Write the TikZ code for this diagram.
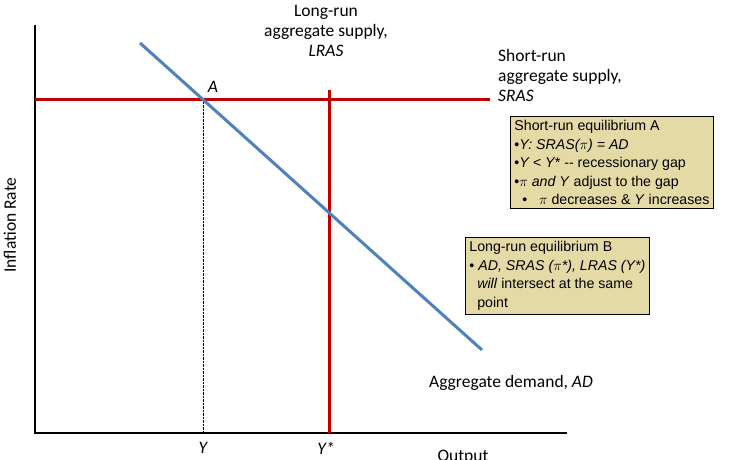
\documentclass[tikz,border=0pt]{standalone}
\usepackage{fontspec}
\setmainfont{Carlito}
\newfontfamily\boxfont{Liberation Sans}
\usetikzlibrary{positioning}
\definecolor{boxTan}{RGB}{228,218,166}
\definecolor{curveRed}{RGB}{192,0,0}
\definecolor{curveBlue}{RGB}{79,129,189}

\begin{document}
\begin{tikzpicture}
    [x = 1pt, y = -1pt,
     axisLine/.style = {line width = 1.6pt},
     redCurve/.style = {line width = 3pt, curveRed},
     blueCurve/.style = {line width = 3pt, curveBlue},
     guideLine/.style = {densely dotted, thin},
     labelNode/.style = {font = \fontsize{17.5}{20}\selectfont, align = left, inner sep = 1pt},
     infoBox/.style = {draw, fill = boxTan, line width = 0.8pt, align = left,
                       font = \boxfont\fontsize{14.2}{18.5}\selectfont,
                       inner sep = 4pt, anchor = north west}]

    \useasboundingbox (0,0) rectangle (752,460);

    % axes
    \coordinate (origin) at (35,433);
    \coordinate (yTop) at (35,25);
    \coordinate (xEnd) at (567,433);
    \draw [axisLine] (yTop) -- (origin) -- (xEnd);

    % curves
    \coordinate (srasL) at (35,99);
    \coordinate (srasR) at (490,99);
    \coordinate (lrasT) at (329,90);
    \coordinate (lrasB) at (329,433);
    \coordinate (adT) at (140,43);
    \coordinate (adB) at (482,350);
    \coordinate (ptA) at (203,99);
    \coordinate (ptY) at (203,433);
    \draw [guideLine] (ptA) -- (ptY);
    \draw [redCurve] (srasL) -- (srasR);
    \draw [redCurve] (lrasT) -- (lrasB);
    \draw [blueCurve] (adT) -- (adB);

    % labels
    \node at (213,87) [labelNode] (labA) {\itshape A};
    \node at (203,448) [labelNode] (labY) {\itshape Y};
    \node at (326,448) [labelNode] (labYs) {\itshape Y*};
    \node at (463,457) [labelNode] (labOut) {Output};
    \node at (10,225) [labelNode, rotate = 90] (labInfl) {Inflation Rate};
    \node at (326,31) [labelNode, align = center] (labLRAS)
      {Long-run\\aggregate supply,\\\itshape LRAS};
    \node at (497,75) [labelNode, anchor = west] (labSRAS)
      {Short-run\\aggregate supply,\\\itshape SRAS};
    \node at (428,383) [labelNode, anchor = west] (labAD)
      {Aggregate demand, \itshape AD};

    % boxes
    \node at (510,116) [infoBox] (boxA)
      {Short-run equilibrium A\\
       \textbullet\textit{Y: SRAS($\pi$) = AD}\\
       \textbullet\textit{Y < Y*} -- recessionary gap\\
       \textbullet$\pi$ \textit{and Y} adjust to the gap\\
       \ \ \textbullet\ \ \ $\pi$ decreases \& \textit{Y} increases};
    \node at (465,237) [infoBox] (boxB)
      {Long-run equilibrium B\\
       \textbullet\ \textit{AD, SRAS ($\pi$*), LRAS (Y*)}\\
       \ \ \textit{will} intersect at the same\\
       \ \ point};
\end{tikzpicture}
\end{document}
